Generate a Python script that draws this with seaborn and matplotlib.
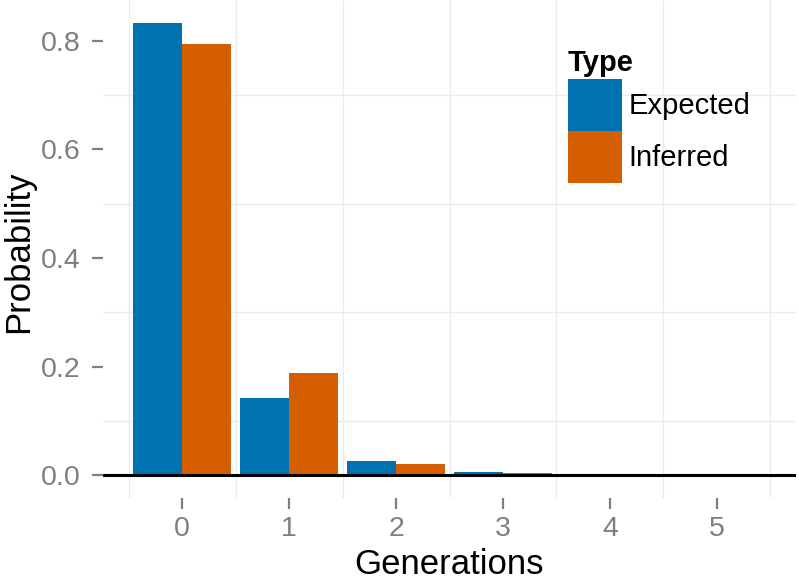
import numpy as np
import pandas as pd
import seaborn as sns
import matplotlib.pyplot as plt
from matplotlib.ticker import FixedLocator, FormatStrFormatter

# values
generations = ['0', '1', '2', '3', '4', '5']
expected = [0.833, 0.143, 0.0255, 0.006, 0.0015, 0.0003]
inferred = [0.794, 0.188, 0.021, 0.0046, 0.001, 0.0002]
types = ['Expected', 'Inferred']
colors = ['#0072B2', '#D55E00']

df = pd.DataFrame({
    'Generations': generations * 2,
    'Probability': expected + inferred,
    'Type': ['Expected'] * len(generations) + ['Inferred'] * len(generations),
})

sns.set_style('white')
plt.rcParams['font.family'] = ['Liberation Sans', 'DejaVu Sans']
plt.rcParams['text.color'] = 'black'
plt.rcParams['axes.labelcolor'] = 'black'

fig = plt.figure(figsize=(7.99, 5.82), dpi=100)
ax = fig.add_axes([103 / 799, 1 - 498 / 582, 693 / 799, 498 / 582])

sns.barplot(data=df, x='Generations', y='Probability', hue='Type',
            order=generations, hue_order=types, palette=colors,
            width=0.92, saturation=1, linewidth=0, errorbar=None, ax=ax)

ax.set_xlim(-0.742, 5.742)
ax.set_ylim(-0.0417, 0.875)
ax.axhline(0, color='black', lw=2.2, zorder=3)

# grid: ggplot style, only the minor lines show
ax.set_axisbelow(True)
ax.yaxis.set_major_locator(FixedLocator([0.0, 0.2, 0.4, 0.6, 0.8]))
ax.yaxis.set_major_formatter(FormatStrFormatter('%.1f'))
ax.yaxis.set_minor_locator(FixedLocator([0.1, 0.3, 0.5, 0.7]))
ax.xaxis.set_minor_locator(FixedLocator(np.arange(-0.5, 6, 1)))
ax.grid(which='minor', color='#EBEBEB', lw=1.0)
ax.grid(which='major', visible=False)
for s in ax.spines.values():
    s.set_visible(False)

ax.tick_params(which='major', axis='both', bottom=True, left=True,
               direction='out', length=8, width=1.6,
               color='#7F7F7F', labelcolor='#7F7F7F', labelsize=20.5)
ax.tick_params(which='major', axis='x', pad=4.7)
ax.tick_params(which='major', axis='y', pad=8)
ax.tick_params(which='minor', length=0)

ax.set_xlabel('Generations', fontsize=25, va='baseline', color='black')
ax.set_ylabel('Probability', fontsize=25, va='baseline', color='black')
ax.xaxis.set_label_coords(0.5, -0.1526)
ax.yaxis.set_label_coords(-0.108, 0.495)

handles, labels = ax.get_legend_handles_labels()
leg = ax.legend(handles, labels, title='Type', loc='upper left',
                bbox_to_anchor=(0.671, 0.9016), frameon=False, fontsize=21,
                title_fontproperties={'weight': 'bold', 'size': 21},
                alignment='left', borderpad=0, borderaxespad=0,
                handlelength=1.85, handleheight=2.366, handletextpad=0.22,
                labelspacing=0, labelcolor='black')
leg.get_title().set_color('black')
leg._legend_box.sep = 1.5

fig.savefig('out.png', dpi=100)
